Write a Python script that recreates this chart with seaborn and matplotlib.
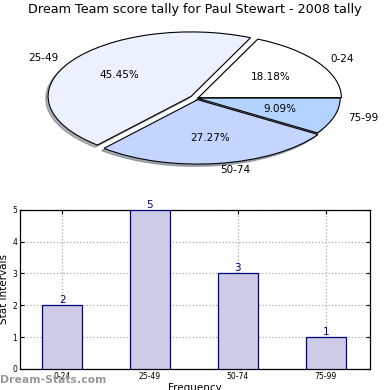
import matplotlib
matplotlib.use("Agg")
import matplotlib.pyplot as plt
import seaborn as sns
import pandas as pd

categories = ["0-24", "25-49", "50-74", "75-99"]
counts = [2, 5, 3, 1]
pie_colors = ["#FFFFFF", "#EBF1FF", "#C4D6FF", "#B4D4FF"]
explode = [0.01, 0.05, 0.025, 0.0]
title = "Dream Team score tally for Paul Stewart - 2008 tally"

sns.set_style("white")
plt.rcParams['font.family'] = ['DejaVu Sans']
plt.rcParams.update({"text.color": "black", "axes.labelcolor": "black",
                     "xtick.color": "black", "ytick.color": "black"})

fig = plt.figure(figsize=(3.9, 3.9), dpi=100)

# Pie
axp = fig.add_axes([0.047, 0.542, 0.917, 0.413])
axp.pie(counts, labels=categories, colors=pie_colors, explode=explode,
        autopct="%1.2f%%", shadow={"ox": -0.012, "oy": -0.025, "shade": 0.6},
        startangle=0,
        wedgeprops=dict(edgecolor="black", linewidth=0.8),
        textprops=dict(fontsize=7.5, color="black"))
axp.set_aspect("auto")
fig.text(0.5, 0.975, title, ha="center", va="center", fontsize=9.2, color="black")

# Bar
axb = fig.add_axes([0.051, 0.054, 0.897, 0.408])
df = pd.DataFrame({"cat": categories, "val": counts})
sns.barplot(data=df, x="cat", y="val", ax=axb, color="#CCCCE6", saturation=1,
            edgecolor="#000080", linewidth=0.9, width=0.45, zorder=3)
axb.set_xlim(-0.48, 3.5)
axb.set_ylim(0, 5)
axb.set_yticks(range(0, 6))
axb.grid(True, linestyle=":", color="#AAAAAA", linewidth=0.9, zorder=0)
axb.set_axisbelow(True)
for s in axb.spines.values():
    s.set_visible(True)
    s.set_color("black")
    s.set_linewidth(0.9)
axb.tick_params(axis="both", labelsize=5.5, direction="in", length=3, pad=2,
                left=True, bottom=True, right=True, top=True, colors="black")
axb.set_xlabel("Frequency", fontsize=7.5, labelpad=2)
axb.set_ylabel("Stat Intervals", fontsize=7.5, labelpad=2)
for i, v in enumerate(counts):
    axb.text(i, v, str(v), ha="center", va="bottom", color="#000080", fontsize=7.5)

fig.text(0.0, 0.025, "Dream-Stats.com", ha="left", va="center", fontsize=7.8,
         color="#999999", fontweight="bold")

fig.savefig("out.png", dpi=100)
